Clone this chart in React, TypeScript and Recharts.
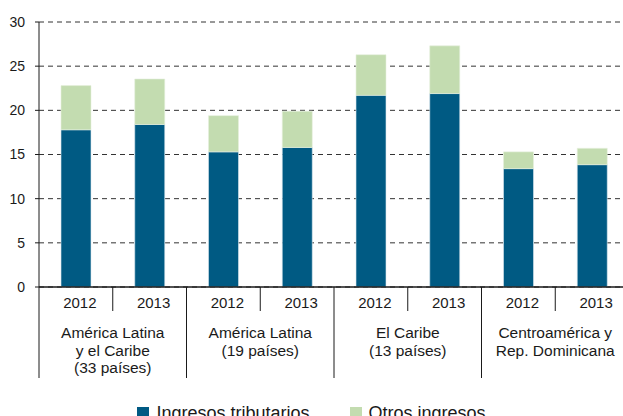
import { BarChart, Bar, XAxis, YAxis, CartesianGrid, Legend } from 'recharts'

const years = ['2012', '2013', '2012', '2013', '2012', '2013', '2012', '2013']
const groups = [
  ['América Latina', 'y el Caribe', '(33 países)'],
  ['América Latina', '(19 países)'],
  ['El Caribe', '(13 países)'],
  ['Centroamérica y', 'Rep. Dominicana'],
]
const tributarios = [17.8, 18.4, 15.3, 15.8, 21.7, 21.9, 13.4, 13.85]
const otros = [5.0, 5.15, 4.1, 4.1, 4.6, 5.4, 1.9, 1.85]
const yTicks = [0, 5, 10, 15, 20, 25, 30]

const data = years.map((year, i) => ({
  year,
  tributarios: tributarios[i],
  otros: otros[i],
}))

const CHART_W = 629
const CHART_H = 430
const Y_W = 39
const BAND = (CHART_W - Y_W) / data.length
const INK = '#1a1a1a'
const FONT = '"Liberation Sans", Arial, sans-serif'

function GroupTick(props: any) {
  const { x, y, index, payload } = props
  const first = index % 2 === 0
  const lines = first ? groups[index / 2] : []
  return (
    <g fontFamily={FONT}>
      <line
        x1={x - BAND / 2}
        x2={x - BAND / 2}
        y1={y}
        y2={y + (first ? 91 : 24)}
        stroke={INK}
      />
      <text x={x + 4} y={y + 21} textAnchor="middle" fontSize={15} fill={INK}>
        {payload.value}
      </text>
      {lines.map((l, k) => (
        <text
          key={k}
          x={x + BAND / 2}
          y={y + 51 + k * 17.5}
          textAnchor="middle"
          fontSize={15.5}
          fill={INK}
        >
          {l}
        </text>
      ))}
    </g>
  )
}

function LegendBox({ payload }: any) {
  return (
    <div
      style={{
        display: 'flex',
        justifyContent: 'center',
        gap: 40,
        fontSize: 18,
        fontFamily: FONT,
        color: INK,
        lineHeight: '26px',
      }}
    >
      {(payload ?? []).map((p: any) => (
        <span key={p.value} style={{ display: 'flex', alignItems: 'center' }}>
          <span style={{ width: 12, height: 12, background: p.color, marginRight: 7 }} />
          {p.value}
        </span>
      ))}
    </div>
  )
}

export default function App() {
  return (
    <div
      style={{
        width: 623,
        height: 416,
        overflow: 'hidden',
        position: 'relative',
        background: '#fff',
        fontFamily: FONT,
      }}
    >
      <style>{'body{margin:0}'}</style>
      <BarChart
        width={CHART_W}
        height={CHART_H}
        data={data}
        margin={{ top: 22, right: 0, left: 0, bottom: 4 }}
      >
        <CartesianGrid vertical={false} strokeDasharray="5 4" stroke="#333" />
        <XAxis
          dataKey="year"
          interval={0}
          height={113}
          tickSize={0}
          tickMargin={0}
          tickLine={false}
          axisLine={{ stroke: INK, strokeWidth: 1.5 }}
          tick={(p: any) => <GroupTick {...p} />}
        />
        <YAxis
          width={Y_W}
          domain={[0, 30]}
          ticks={yTicks}
          tickSize={4}
          tickMargin={10}
          axisLine={{ stroke: INK }}
          tickLine={{ stroke: INK }}
          tick={{ fontSize: 14, fill: INK, fontFamily: FONT }}
        />
        <Legend
          verticalAlign="bottom"
          height={26}
          wrapperStyle={{ left: 0, width: 623 }}
          content={LegendBox}
        />
        <Bar
          dataKey="tributarios"
          name="Ingresos tributarios"
          stackId="a"
          fill="#005a83"
          stroke="#dbe7ee"
          strokeWidth={0.6}
          barSize={30}
          isAnimationActive={false}
        />
        <Bar
          dataKey="otros"
          name="Otros ingresos"
          stackId="a"
          fill="#c3dcb0"
          stroke="#e6f0de"
          strokeWidth={0.6}
          barSize={30}
          isAnimationActive={false}
        />
      </BarChart>
    </div>
  )
}
